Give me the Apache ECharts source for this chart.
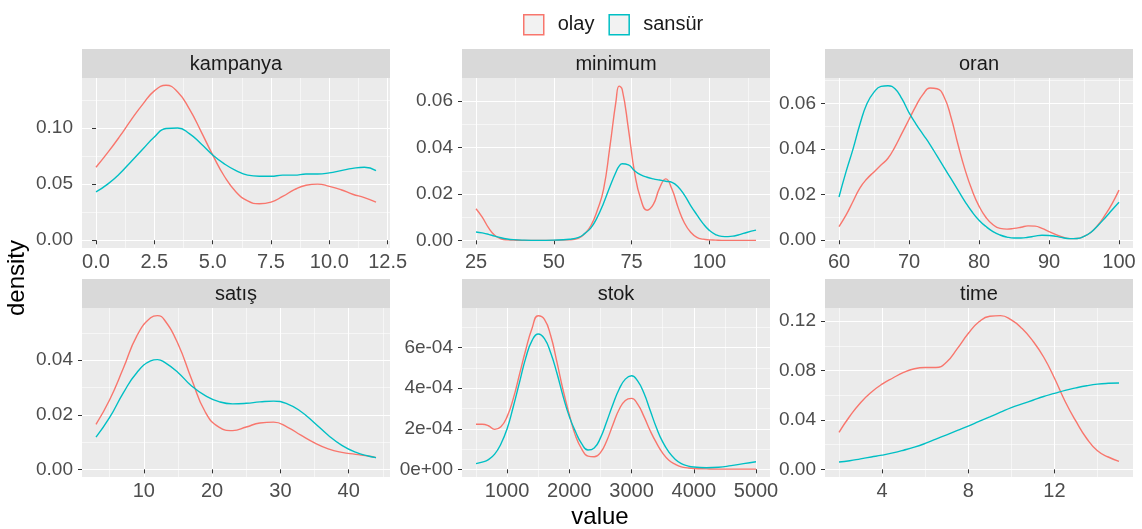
<!DOCTYPE html>
<html>
<head>
<meta charset="utf-8">
<title>density</title>
<script src="https://cdn.jsdelivr.net/npm/echarts@6/dist/echarts.min.js"></script>
<style>
  html, body { margin: 0; padding: 0; background: #fff; }
  #chart { width: 1142px; height: 529px; }
</style>
</head>
<body>
<div id="chart"></div>
<script>
// ---- data ----
const seriesNames = ['olay', 'sansür'];
const panelTitles = ['kampanya', 'minimum', 'oran', 'satış', 'stok', 'time'];

const kampanyaX = [0,0.5,1,1.5,2,2.5,3,3.5,4,4.5,5,5.5,6,6.5,7,7.5,8,8.5,9,9.5,10,10.5,11,11.5,12];
const kampanyaOlay = [0.065,0.078,0.092,0.107,0.121,0.133,0.138,0.132,0.117,0.097,0.076,0.057,0.043,0.035,0.0325,0.034,0.039,0.045,0.049,0.050,0.048,0.045,0.041,0.038,0.034];
const kampanyaSansur = [0.043,0.050,0.059,0.070,0.081,0.092,0.0995,0.100,0.095,0.086,0.076,0.068,0.062,0.058,0.057,0.057,0.058,0.058,0.059,0.059,0.060,0.062,0.064,0.065,0.062];

const minimumX = [25,27,29,31,33,35,37,40,45,50,55,58,60,62,64,66,68,70,71,72,74,76,78,80,82,84,86,88,90,92,94,96,98,100,102,104,106,108,110,112,115];
const minimumOlay = [0.0136,0.0100,0.0055,0.0022,0.0007,0.0002,0.0001,0,0,0,0.0002,0.001,0.003,0.0065,0.013,0.022,0.040,0.060,0.0665,0.065,0.048,0.029,0.0176,0.013,0.0155,0.0225,0.0265,0.022,0.014,0.0075,0.0035,0.0013,0.0005,0.0002,0.0001,0,0,0,0,0,0];
const minimumSansur = [0.0036,0.0032,0.0026,0.0018,0.0011,0.0006,0.0003,0.0001,0,0.0001,0.0005,0.0013,0.003,0.0055,0.010,0.016,0.023,0.0295,0.032,0.033,0.0325,0.030,0.0282,0.0272,0.0265,0.026,0.0255,0.025,0.023,0.0195,0.015,0.011,0.0072,0.0043,0.0025,0.0017,0.0016,0.0019,0.0026,0.0034,0.0044];

const oranX = [60,61,62,63,64,65,66,67,68,69,70,71,72,73,74,75,76,77,78,79,80,81,82,83,84,85,86,87,88,89,90,91,92,93,94,95,96,97,98,99,100];
const oranOlay = [0.006,0.011,0.017,0.023,0.027,0.030,0.033,0.036,0.041,0.047,0.053,0.059,0.064,0.0668,0.0665,0.063,0.054,0.042,0.031,0.022,0.015,0.010,0.0068,0.0052,0.0049,0.0052,0.0057,0.0063,0.0062,0.0052,0.0038,0.0025,0.0013,0.0007,0.0008,0.0017,0.0035,0.0067,0.011,0.016,0.022];
const oranSansur = [0.019,0.030,0.040,0.051,0.060,0.065,0.0675,0.0678,0.0665,0.062,0.056,0.051,0.0465,0.042,0.037,0.032,0.027,0.022,0.017,0.0125,0.0088,0.006,0.0038,0.0023,0.0014,0.001,0.001,0.0013,0.0018,0.0022,0.0021,0.0017,0.0011,0.0007,0.0008,0.0017,0.0035,0.0065,0.0098,0.0133,0.0167];

const satisX = [3,5,7,9,11,12,13,15,17,19,21,23,25,27,29,31,33,35,37,39,41,43,44];
const satisOlay = [0.0165,0.0255,0.037,0.049,0.0555,0.0563,0.0548,0.046,0.033,0.021,0.0155,0.0142,0.0155,0.017,0.0173,0.0155,0.0125,0.0097,0.0075,0.0062,0.0055,0.0048,0.0043];
const satisSansur = [0.0118,0.019,0.028,0.0355,0.0397,0.0402,0.0393,0.0355,0.0305,0.027,0.0248,0.024,0.0242,0.0247,0.025,0.024,0.0212,0.017,0.0125,0.0088,0.0063,0.0048,0.0043];

const stokX = [500,600,700,800,900,1000,1100,1200,1300,1400,1500,1600,1700,1800,1900,2000,2100,2200,2300,2400,2500,2600,2700,2800,2900,3000,3100,3200,3300,3400,3500,3600,3700,3800,3900,4000,4200,4400,4600,4800,5000];
const stokOlay = [2.22e-4,2.22e-4,2.15e-4,1.97e-4,2.1e-4,2.6e-4,3.5e-4,4.7e-4,5.9e-4,6.95e-4,7.58e-4,7.4e-4,6.6e-4,5.3e-4,3.9e-4,2.7e-4,1.65e-4,1.0e-4,0.65e-4,0.62e-4,0.82e-4,1.4e-4,2.2e-4,2.95e-4,3.4e-4,3.5e-4,3.2e-4,2.6e-4,1.9e-4,1.3e-4,0.8e-4,0.45e-4,0.25e-4,0.12e-4,0.07e-4,0.04e-4,0.02e-4,0.01e-4,0.01e-4,0.01e-4,0.01e-4];
const stokSansur = [0.28e-4,0.35e-4,0.48e-4,0.75e-4,1.25e-4,2.0e-4,3.1e-4,4.3e-4,5.5e-4,6.35e-4,6.68e-4,6.45e-4,5.75e-4,4.75e-4,3.6e-4,2.6e-4,1.85e-4,1.25e-4,0.95e-4,1.05e-4,1.55e-4,2.35e-4,3.2e-4,3.95e-4,4.45e-4,4.62e-4,4.35e-4,3.75e-4,2.9e-4,2.05e-4,1.35e-4,0.85e-4,0.5e-4,0.28e-4,0.17e-4,0.11e-4,0.08e-4,0.1e-4,0.18e-4,0.28e-4,0.37e-4];

const timeX = [2,2.5,3,3.5,4,4.5,5,5.5,6,6.5,7,7.5,8,8.5,9,9.5,10,10.5,11,11.5,12,12.5,13,13.5,14,14.5,15];
const timeOlay = [0.030,0.043,0.054,0.0625,0.069,0.074,0.0785,0.0815,0.0825,0.0825,0.087,0.098,0.110,0.1195,0.124,0.1245,0.121,0.114,0.104,0.091,0.074,0.055,0.039,0.025,0.015,0.010,0.0065];
const timeSansur = [0.006,0.007,0.0085,0.010,0.0115,0.0133,0.0155,0.018,0.021,0.0245,0.028,0.0315,0.035,0.0388,0.0425,0.0463,0.050,0.053,0.056,0.059,0.0615,0.064,0.066,0.0677,0.069,0.0697,0.070];

// ---- axis breaks ----
const kampanyaXTicks = [0, 2.5, 5, 7.5, 10, 12.5];
const kampanyaXMinor = [1.25, 3.75, 6.25, 8.75, 11.25];
const kampanyaYTicks = [0, 0.05, 0.10];
const kampanyaYMinor = [0.025, 0.075, 0.125];

const minimumXTicks = [25, 50, 75, 100];
const minimumXMinor = [37.5, 62.5, 87.5, 112.5];
const minimumYTicks = [0, 0.02, 0.04, 0.06];
const minimumYMinor = [0.01, 0.03, 0.05];

const oranXTicks = [60, 70, 80, 90, 100];
const oranXMinor = [65, 75, 85, 95];
const oranYTicks = [0, 0.02, 0.04, 0.06];
const oranYMinor = [0.01, 0.03, 0.05, 0.07];

const satisXTicks = [10, 20, 30, 40];
const satisXMinor = [5, 15, 25, 35, 45];
const satisYTicks = [0, 0.02, 0.04];
const satisYMinor = [0.01, 0.03, 0.05];

const stokXTicks = [1000, 2000, 3000, 4000, 5000];
const stokXMinor = [500, 1500, 2500, 3500, 4500];
const stokYTicks = [0, 2e-4, 4e-4, 6e-4];
const stokYMinor = [1e-4, 3e-4, 5e-4, 7e-4];

const timeXTicks = [4, 8, 12];
const timeXMinor = [2, 6, 10, 14];
const timeYTicks = [0, 0.04, 0.08, 0.12];
const timeYMinor = [0.02, 0.06, 0.10];

// ---- formatting helpers ----
const fixed = d => v => Number(v).toFixed(d);
const integer = v => String(Math.round(v));
function sci(v) {
  if (Math.abs(v) < 1e-15) return '0e+00';
  const e = Math.floor(Math.log10(Math.abs(v)) + 1e-9);
  const m = Math.round(v / Math.pow(10, e));
  return m + 'e' + (e < 0 ? '-' : '+') + String(Math.abs(e)).padStart(2, '0');
}

// ---- facet definitions ----
const panels = [
  { title: panelTitles[0], x: kampanyaX, a: kampanyaOlay, b: kampanyaSansur, xr: [-0.6, 12.6], yr: [-0.0069, 0.1445],
    xt: kampanyaXTicks, xm: kampanyaXMinor, yt: kampanyaYTicks, ym: kampanyaYMinor, xf: fixed(1), yf: fixed(2) },
  { title: panelTitles[1], x: minimumX, a: minimumOlay, b: minimumSansur, xr: [20.5, 119.5], yr: [-0.0033, 0.0700],
    xt: minimumXTicks, xm: minimumXMinor, yt: minimumYTicks, ym: minimumYMinor, xf: integer, yf: fixed(2) },
  { title: panelTitles[2], x: oranX, a: oranOlay, b: oranSansur, xr: [58, 102], yr: [-0.0034, 0.0712],
    xt: oranXTicks, xm: oranXMinor, yt: oranYTicks, ym: oranYMinor, xf: integer, yf: fixed(2) },
  { title: panelTitles[3], x: satisX, a: satisOlay, b: satisSansur, xr: [0.95, 46.05], yr: [-0.0028, 0.0591],
    xt: satisXTicks, xm: satisXMinor, yt: satisYTicks, ym: satisYMinor, xf: integer, yf: fixed(2) },
  { title: panelTitles[4], x: stokX, a: stokOlay, b: stokSansur, xr: [275, 5225], yr: [-0.38e-4, 7.96e-4],
    xt: stokXTicks, xm: stokXMinor, yt: stokYTicks, ym: stokYMinor, xf: integer, yf: sci },
  { title: panelTitles[5], x: timeX, a: timeOlay, b: timeSansur, xr: [1.35, 15.65], yr: [-0.0062, 0.1307],
    xt: timeXTicks, xm: timeXMinor, yt: timeYTicks, ym: timeYMinor, xf: integer, yf: fixed(2) }
];

// ---- layout & style ----
const FONT = "'Liberation Sans', Arial, Helvetica, sans-serif";
const COLORS = ['#F8766D', '#00BFC4'];
const colLeft = [82, 462, 825];
const rowTop = [78, 308];
const rowH = [170, 169];
const panelW = 308;
const stripH = 29;

const grids = [], xAxes = [], yAxes = [], series = [], graphics = [];

panels.forEach((p, i) => {
  const col = i % 3, row = Math.floor(i / 3);
  const left = colLeft[col], top = rowTop[row], h = rowH[row];
  grids.push({
    left: left, top: top, width: panelW, height: h,
    show: true, backgroundColor: '#EBEBEB', borderWidth: 0,
    containLabel: false, outerBoundsMode: 'none'
  });

  // major axis: labels, ticks, major grid lines
  xAxes.push({
    type: 'value', gridIndex: i, min: p.xr[0], max: p.xr[1], position: 'bottom',
    axisLine: { show: false },
    axisTick: { show: true, length: 4, customValues: p.xt, lineStyle: { color: '#333333', width: 1 } },
    axisLabel: { customValues: p.xt, formatter: p.xf, color: '#4D4D4D', fontSize: 20, margin: 4, fontFamily: FONT },
    splitLine: { show: true, lineStyle: { color: '#FFFFFF', width: 1.1 } }
  });
  // minor grid lines only
  xAxes.push({
    type: 'value', gridIndex: i, min: p.xr[0], max: p.xr[1], position: 'top',
    axisLine: { show: false }, axisLabel: { show: false },
    axisTick: { show: false, customValues: p.xm },
    splitLine: { show: true, lineStyle: { color: '#FFFFFF', width: 0.55 } }
  });

  yAxes.push({
    type: 'value', gridIndex: i, min: p.yr[0], max: p.yr[1], position: 'left',
    axisLine: { show: false },
    axisTick: { show: true, length: 4, customValues: p.yt, lineStyle: { color: '#333333', width: 1 } },
    axisLabel: { customValues: p.yt, formatter: p.yf, color: '#4D4D4D', fontSize: 19, margin: 9, fontFamily: FONT },
    splitLine: { show: true, lineStyle: { color: '#FFFFFF', width: 1.1 } }
  });
  yAxes.push({
    type: 'value', gridIndex: i, min: p.yr[0], max: p.yr[1], position: 'right',
    axisLine: { show: false }, axisLabel: { show: false },
    axisTick: { show: false, customValues: p.ym },
    splitLine: { show: true, lineStyle: { color: '#FFFFFF', width: 0.55 } }
  });

  [p.a, p.b].forEach((ys, s) => {
    series.push({
      type: 'line', name: seriesNames[s],
      xAxisIndex: 2 * i, yAxisIndex: 2 * i,
      data: p.x.map((v, k) => [v, ys[k]]),
      symbol: 'none', showSymbol: false, smooth: 0.5,
      lineStyle: { color: COLORS[s], width: 1.4 },
      itemStyle: { color: COLORS[s] },
      emphasis: { disabled: true }
    });
  });

  // facet strip
  graphics.push({
    type: 'rect', silent: true,
    shape: { x: left, y: top - stripH, width: panelW, height: stripH },
    style: { fill: '#D9D9D9' }
  });
  graphics.push({
    type: 'text', silent: true,
    style: {
      text: p.title, x: left + panelW / 2, y: top - stripH / 2 + 1,
      align: 'center', verticalAlign: 'middle',
      fontSize: 20, fontFamily: FONT, fill: '#1A1A1A'
    }
  });
});

// axis titles
graphics.push({
  type: 'text', silent: true, x: 17, y: 278, rotation: Math.PI / 2,
  style: { text: 'density', align: 'center', verticalAlign: 'middle', fontSize: 24, fontFamily: FONT, fill: '#000000' }
});
graphics.push({
  type: 'text', silent: true, x: 600, y: 517,
  style: { text: 'value', align: 'center', verticalAlign: 'middle', fontSize: 24, fontFamily: FONT, fill: '#000000' }
});

const chart = echarts.init(document.getElementById('chart'), null, { renderer: 'canvas' });
chart.setOption({
  backgroundColor: '#FFFFFF',
  animation: false,
  legend: {
    left: 518, top: 9, itemWidth: 20, itemHeight: 20, itemGap: 14, icon: 'rect',
    textStyle: { fontSize: 20, color: '#1A1A1A', fontFamily: FONT, padding: [0, 0, 0, 9] },
    data: seriesNames.map((n, s) => ({
      name: n,
      itemStyle: { color: '#F2F2F2', borderColor: COLORS[s], borderWidth: 1.5 }
    }))
  },
  grid: grids,
  xAxis: xAxes,
  yAxis: yAxes,
  series: series,
  graphic: graphics
});
</script>
</body>
</html>
